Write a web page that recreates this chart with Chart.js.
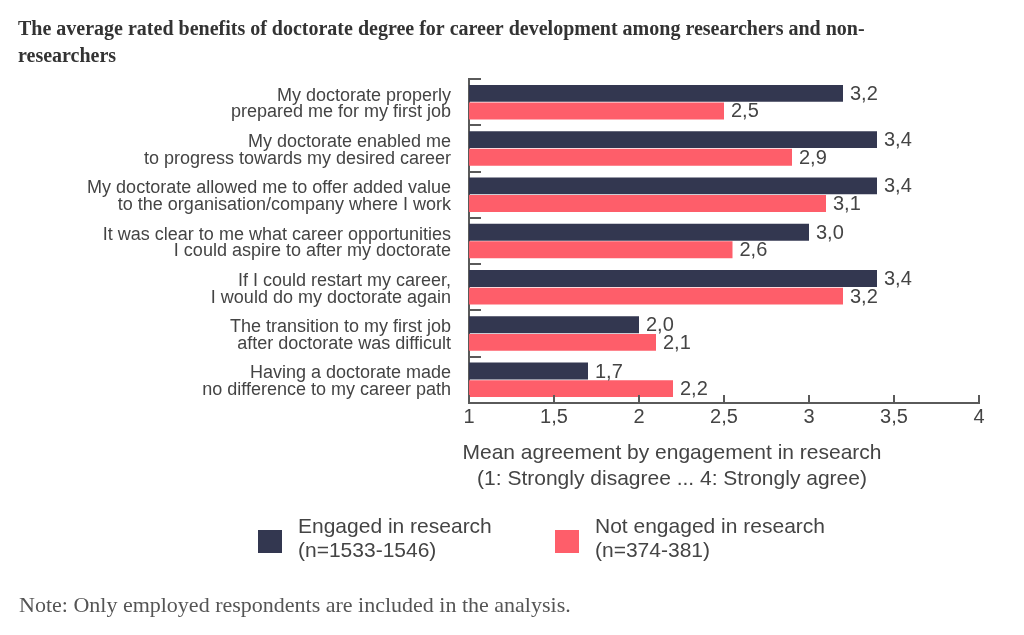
<!DOCTYPE html>
<html>
<head>
<meta charset="utf-8">
<script src="https://cdn.jsdelivr.net/npm/chart.js@4.4.1/dist/chart.umd.min.js"></script>
<style>
  html, body { margin: 0; padding: 0; background: #fff; }
  #wrap { width: 1024px; height: 635px; position: relative; }
</style>
</head>
<body>
<div id="wrap"><canvas id="benefitsChart"></canvas></div>
<script>
const categories = [
    ["My doctorate properly", "prepared me for my first job"],
    ["My doctorate enabled me", "to progress towards my desired career"],
    ["My doctorate allowed me to offer added value", "to the organisation/company where I work"],
    ["It was clear to me what career opportunities", "I could aspire to after my doctorate"],
    ["If I could restart my career,", "I would do my doctorate again"],
    ["The transition to my first job", "after doctorate was difficult"],
    ["Having a doctorate made", "no difference to my career path"]
];
const engaged = [3.2, 3.4, 3.4, 3.0, 3.4, 2.0, 1.7];
const notEngaged = [2.5, 2.9, 3.1, 2.55, 3.2, 2.1, 2.2];
const seriesNames = [
    ["Engaged in research", "(n=1533-1546)"],
    ["Not engaged in research", "(n=374-381)"]
];
const xTicks = [1, 1.5, 2, 2.5, 3, 3.5, 4];
const chartTitle = [
    "The average rated benefits of doctorate degree for career development among researchers and non-",
    "researchers"
];
const axisTitle = ["Mean agreement by engagement in research", "(1: Strongly disagree ... 4: Strongly agree)"];
const note = "Note: Only employed respondents are included in the analysis.";

const DARK = "#333750";
const PINK = "#fe5e6a";
const TEXT = "#444";
const AXIS = "#5a5a5a";
const SANS = "'Liberation Sans', Arial, sans-serif";
const SERIF = "'Liberation Serif', 'Times New Roman', serif";

const fmt = v => (v + 0.001).toFixed(1).replace(".", ",");

// extra drawing: value labels, axis ticks, titles, legend, note
const decorations = {
    id: "decorations",
    afterDatasetsDraw(chart) {
        const c = chart.ctx;
        const x = chart.scales.x;
        const area = chart.chartArea;
        c.save();

        // value labels at bar ends
        c.font = "20px " + SANS;
        c.fillStyle = TEXT;
        c.textBaseline = "middle";
        c.textAlign = "left";
        chart.data.datasets.forEach((ds, di) => {
            chart.getDatasetMeta(di).data.forEach((bar, i) => {
                c.fillText(fmt(ds.data[i]), bar.x + 7, bar.y + 1);
            });
        });

        // category ticks on the y axis, pointing right
        c.strokeStyle = AXIS;
        c.lineWidth = 2;
        const band = (area.bottom - area.top) / categories.length;
        for (let i = 0; i < categories.length; i++) {
            const yy = Math.round(area.top + i * band);
            c.beginPath();
            c.moveTo(area.left - 1, yy);
            c.lineTo(area.left + 12, yy);
            c.stroke();
        }
        // value ticks on the x axis, pointing up
        xTicks.forEach(t => {
            const xx = Math.round(x.getPixelForValue(t));
            c.beginPath();
            c.moveTo(xx, area.bottom);
            c.lineTo(xx, area.bottom - 8);
            c.stroke();
        });

        // axis title
        c.font = "21px " + SANS;
        c.fillStyle = TEXT;
        c.textAlign = "center";
        c.fillText(axisTitle[0], 672, 453);
        c.fillText(axisTitle[1], 672, 479);

        // legend
        const legendX = [258, 555];
        [DARK, PINK].forEach((col, i) => {
            c.fillStyle = col;
            c.fillRect(legendX[i], 530, 24, 23);
            c.fillStyle = TEXT;
            c.textAlign = "left";
            c.fillText(seriesNames[i][0], legendX[i] + 40, 527);
            c.fillText(seriesNames[i][1], legendX[i] + 40, 551);
        });

        // chart title
        c.fillStyle = "#333";
        c.font = "bold 20px " + SERIF;
        c.fillText(chartTitle[0], 18, 30);
        c.fillText(chartTitle[1], 18, 57);

        // note
        c.fillStyle = "#555";
        c.font = "22px " + SERIF;
        c.fillText(note, 19, 606);

        c.restore();
    }
};

const ctx = document.getElementById("benefitsChart").getContext("2d");
new Chart(ctx, {
    type: "bar",
    data: {
        labels: categories,
        datasets: [
            { label: seriesNames[0].join(" "), data: engaged, backgroundColor: DARK },
            { label: seriesNames[1].join(" "), data: notEngaged, backgroundColor: PINK }
        ]
    },
    options: {
        indexAxis: "y",
        responsive: true,
        maintainAspectRatio: false,
        animation: false,
        layout: { padding: { top: 79, right: 45, left: 0, bottom: 0 } },
        datasets: { bar: { categoryPercentage: 0.76, barPercentage: 0.96 } },
        plugins: {
            legend: { display: false },
            tooltip: { enabled: false }
        },
        scales: {
            x: {
                min: 1,
                max: 4,
                afterBuildTicks(scale) { scale.ticks = xTicks.map(v => ({ value: v })); },
                afterFit(scale) { scale.height = 232; },
                grid: { drawOnChartArea: false, drawTicks: false },
                border: { color: AXIS, width: 2 },
                ticks: {
                    padding: 2,
                    color: TEXT,
                    font: { family: SANS, size: 20 },
                    maxRotation: 0,
                    callback: v => String(v).replace(".", ",")
                }
            },
            y: {
                afterFit(scale) { scale.width = 469; },
                grid: { drawOnChartArea: false, drawTicks: false },
                border: { color: AXIS, width: 2 },
                ticks: {
                    padding: 18,
                    labelOffset: 2,
                    color: TEXT,
                    font: { family: SANS, size: 18, lineHeight: 0.93 }
                }
            }
        }
    },
    plugins: [decorations]
});
</script>
</body>
</html>
